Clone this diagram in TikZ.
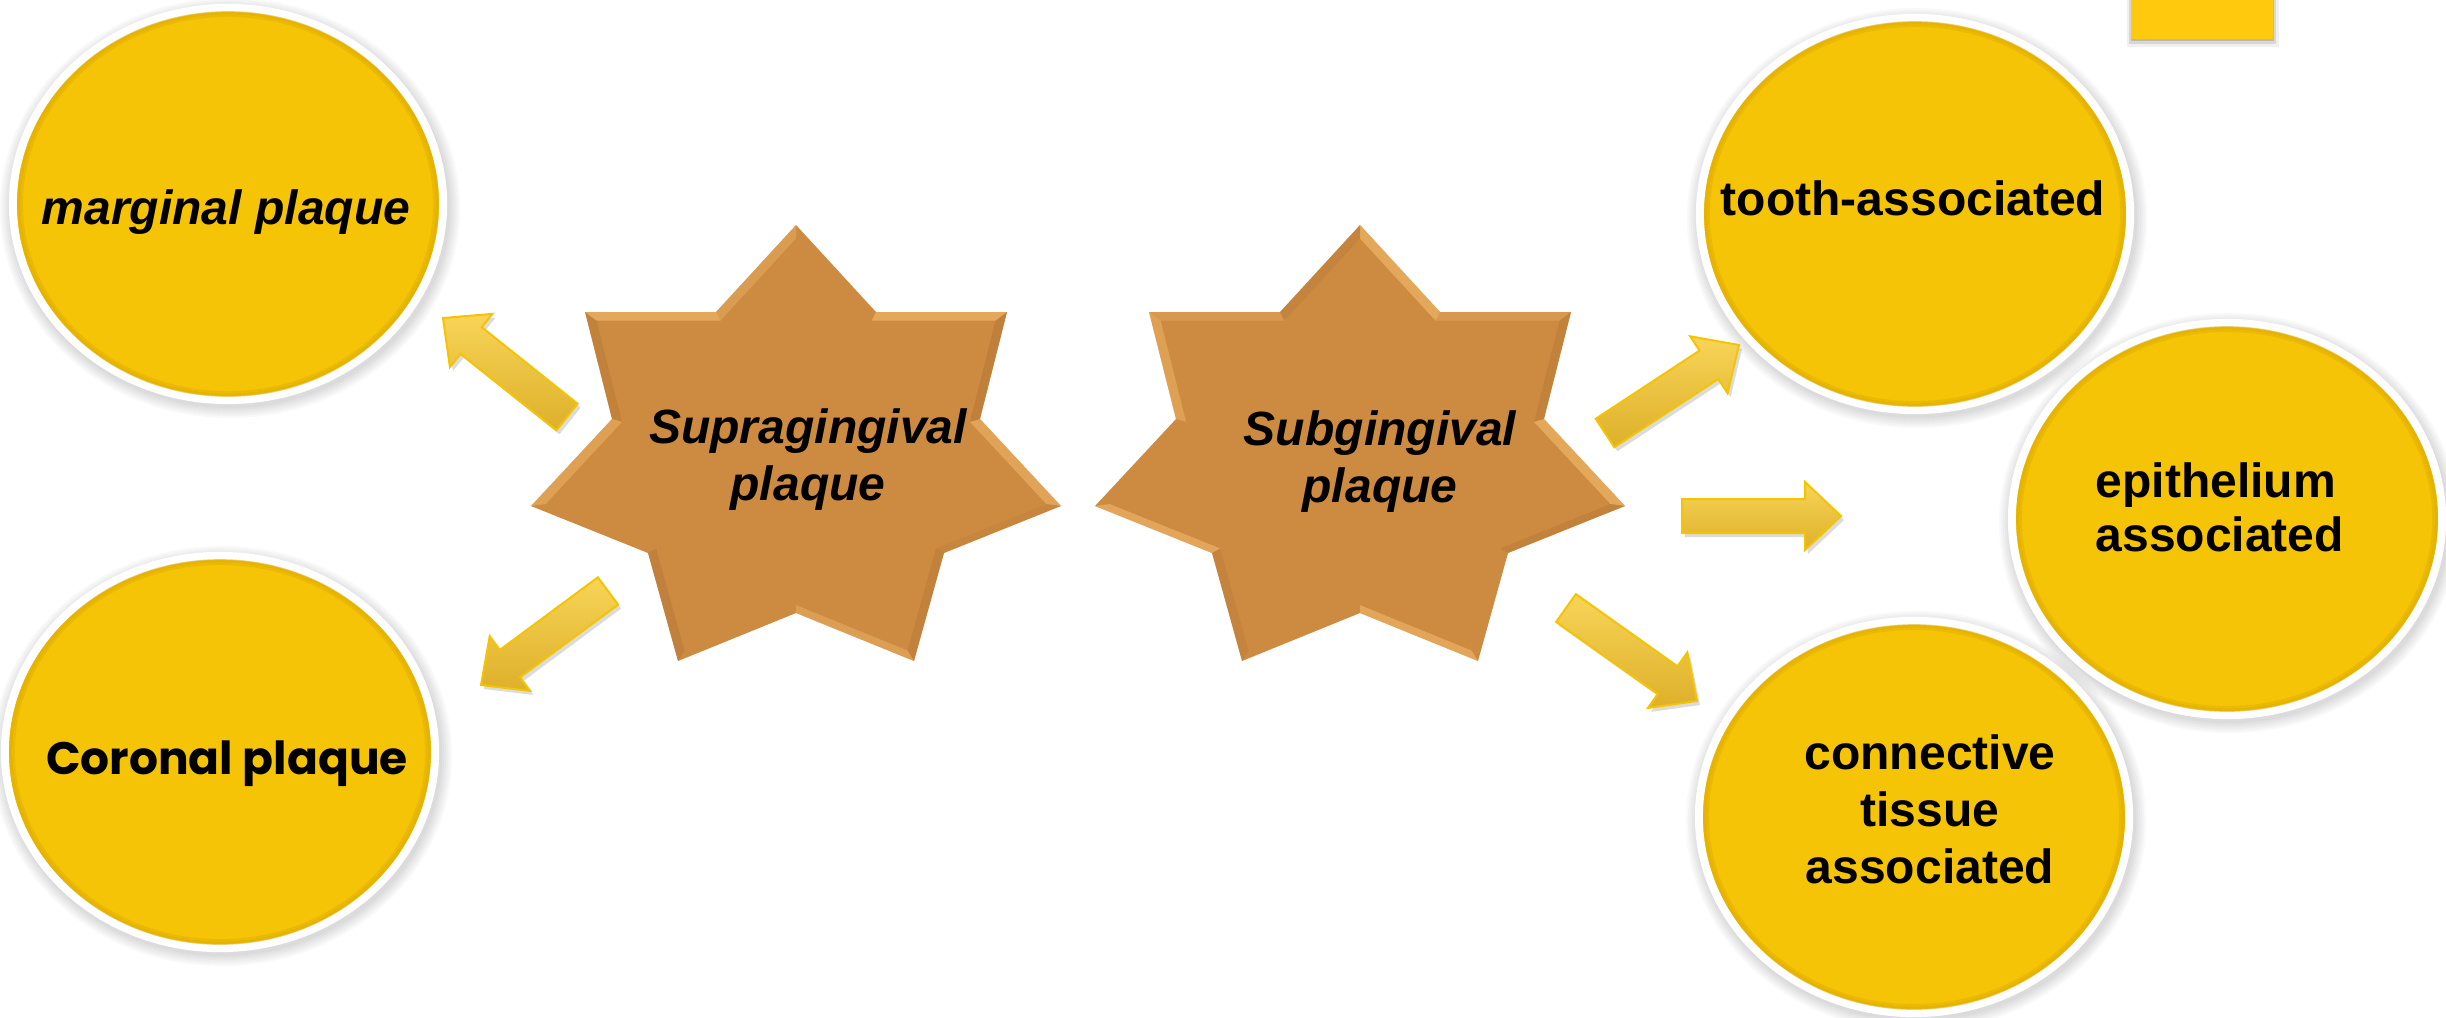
\documentclass[tikz,border=0pt]{standalone}
\usepackage{fontspec}
\setmainfont{Liberation Sans}
\newfontfamily\gothic{Poppins}
\usetikzlibrary{calc,shapes.geometric}
\definecolor{ellY}{HTML}{F5C406}
\definecolor{ellRim}{HTML}{D9A600}
\definecolor{starF}{HTML}{CD8B42}
\definecolor{starL}{HTML}{F4BC6C}
\definecolor{starD}{HTML}{A8692C}
\definecolor{arrL}{HTML}{F8D458}
\definecolor{arrD}{HTML}{DDB02A}
\definecolor{arrE}{HTML}{F5C400}
\definecolor{boxY}{HTML}{FFC90D}

\newcommand\arrpath[1]{($(#1t)!0.17cm!90:(#1h)$) -- ($(#1b)!0.17cm!90:(#1h)$) -- ($(#1b)!0.34cm!90:(#1h)$) -- (#1h) -- ($(#1b)!0.34cm!-90:(#1h)$) -- ($(#1b)!0.17cm!-90:(#1h)$) -- ($(#1t)!0.17cm!-90:(#1h)$) -- cycle}
\newcommand\blockarr[3]{%
  \coordinate (#1t) at #2;
  \coordinate (#1h) at #3;
  \coordinate (#1b) at ($(#1h)!0.36cm!(#1t)$);
  \fill[black,opacity=0.14,transform canvas={shift={(0.03cm,-0.04cm)}}] \arrpath{#1};
  \shadedraw[top color=arrL,bottom color=arrD,draw=arrE,line width=0.02cm] \arrpath{#1};
}
\newcommand\ellshadow[1]{%
  \foreach \k in {1,...,6}{
    \fill[black,opacity=0.025] ($(#1)+(2,4)$) ellipse [x radius={2.18cm+\k*0.02cm}, y radius={1.98cm+\k*0.02cm}];
  }
}
\newcommand\ellrim[1]{%
  \draw[ellRim,line width=0.035cm,opacity=0.55] (#1) ellipse [x radius=2.09cm, y radius=1.91cm];
  \draw[ellRim,line width=0.02cm,opacity=0.35] (#1) ellipse [x radius=2.06cm, y radius=1.88cm];
}
\newcommand\sevenstar[3]{% name, centre x, bevel list
  \foreach \i/\dx/\yy in {1/0/225,2/80/312,3/211/312,4/184/419,5/265/506,6/148/553,7/118/661,8/0/613,9/-118/661,10/-148/553,11/-265/506,12/-184/419,13/-211/312,14/-80/312}
    {\coordinate (#1p\i) at ({#2+\dx},\yy);}
  \coordinate (#1c) at (#2,470);
  \fill[starF] (#1p1) \foreach \i in {2,...,14}{-- (#1p\i)} -- cycle;
  \foreach \i/\j/\c/\o in {#3}
    {\fill[\c,opacity=\o] (#1p\i) -- (#1p\j) -- ($(#1c)!0.945!(#1p\j)$) -- ($(#1c)!0.945!(#1p\i)$) -- cycle;}
}

\begin{document}
\begin{tikzpicture}[x=0.01cm,y=-0.01cm,
  ell/.style={ellipse,draw=white,line width=0.08cm,fill=ellY,minimum width=4.30cm,minimum height=3.92cm,inner sep=0pt},
  txt/.style={inner sep=0pt,font=\fontsize{13.66pt}{15.6pt}\selectfont\bfseries},
  startxt/.style={inner sep=0pt,align=center,font=\fontsize{13.66pt}{16.2pt}\selectfont\bfseries\itshape}]
\useasboundingbox (0,0) rectangle (2446,1017);
\fill[white] (0,0) rectangle (2446,1017);

% top-right box
\fill[black,opacity=0.06] (2127,0) rectangle (2279,47);
\fill[black,opacity=0.10] (2129,0) rectangle (2276,44);
\fill[black,opacity=0.14] (2131,0) rectangle (2274,41);
\fill[boxY] (2131,0) rectangle (2273,39);

% ellipse centres
\coordinate (mc) at (228,204);
\coordinate (cc) at (220,752);
\coordinate (tc) at (1915,214);
\coordinate (ec) at (2227,519);
\coordinate (kc) at (1914,817);
\ellshadow{mc}\ellshadow{cc}\ellshadow{tc}\ellshadow{ec}\ellshadow{kc}

\node[ell] (marg) at (mc) {};
\node[ell] (coro) at (cc) {};
\node[ell] (tooth) at (tc) {};
\node[ell] (epi) at (ec) {};
\node[ell] (conn) at (kc) {};
\ellrim{mc}\ellrim{cc}\ellrim{tc}\ellrim{ec}\ellrim{kc}

% stars
\sevenstar{sup}{796}{2/3/starL/0.6,13/14/starL/0.6,14/1/starL/0.35,11/12/starL/0.45,4/5/starL/0.5,7/8/starL/0.4,3/4/starD/0.35,9/10/starD/0.3,12/13/starD/0.25,6/7/starD/0.25,5/6/starD/0.15}
\sevenstar{sub}{1360}{1/2/starL/0.6,4/5/starL/0.6,7/8/starL/0.55,10/11/starL/0.55,12/13/starL/0.45,2/3/starL/0.3,13/14/starL/0.3,3/4/starD/0.25,5/6/starD/0.25,9/10/starD/0.2,14/1/starD/0.2}

% arrows
\blockarr{A}{(567,417)}{(443,318)}
\blockarr{B}{(608,591)}{(481,685)}
\blockarr{C}{(1605,433)}{(1739,345)}
\blockarr{D}{(1682,516)}{(1841,516)}
\blockarr{E}{(1566,608)}{(1697,701)}

% texts
\node[txt,font=\fontsize{13.66pt}{15.6pt}\selectfont\bfseries\itshape,anchor=base] (margt) at (226,224) {marginal plaque};
\node[txt,font=\fontsize{12.95pt}{15.6pt}\selectfont\gothic\bfseries,anchor=base] (corot) at (227,774) {Coronal plaque};
\node[txt,anchor=base] (tootht) at (1913,215) {tooth-associated};
\node[txt,align=left,anchor=base west,font=\fontsize{13.66pt}{15.2pt}\selectfont\bfseries] (epit) at (2095,551) {epithelium\\associated};
\node[txt,align=center,anchor=base,font=\fontsize{13.66pt}{16.1pt}\selectfont\bfseries] (connt) at (1930,883) {connective\\tissue\\associated};
\node[startxt,anchor=base] (supt) at (808,500) {Supragingival\\plaque};
\node[startxt,anchor=base] (subt) at (1380,502) {Subgingival\\plaque};
\end{tikzpicture}
\end{document}
